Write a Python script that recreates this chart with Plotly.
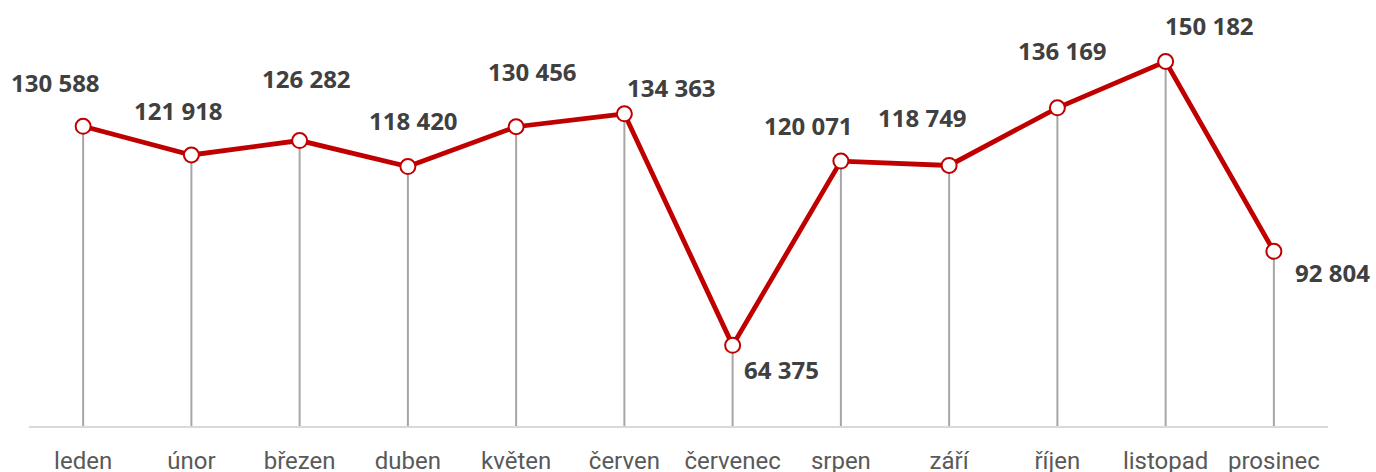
import plotly.graph_objects as go

months = ["leden", "únor", "březen", "duben", "květen", "červen",
          "červenec", "srpen", "září", "říjen", "listopad", "prosinec"]
values = [130588, 121918, 126282, 118420, 130456, 134363,
          64375, 120071, 118749, 136169, 150182, 92804]
labels = ["130 588", "121 918", "126 282", "118 420", "130 456", "134 363",
          "64 375", "120 071", "118 749", "136 169", "150 182", "92 804"]

# label pixel offsets (dx right, dy up)
label_dx = [-28, -13, 7, 6, 16, 47, 49, -32, -27, 5, 44, 59]
label_dy = [44, 44, 62, 46, 55, 26, -24, 36, 48, 57, 36, -21]

Y_MIN, Y_MAX = 40000, 160000
RED = "#c00000"

fig = go.Figure()

# drop lines
dx, dy = [], []
for m, v in zip(months, values):
    dx += [m, m, None]
    dy += [Y_MIN, v, None]
fig.add_trace(go.Scatter(x=dx, y=dy, mode="lines",
                         line=dict(color="#a6a6a6", width=2),
                         hoverinfo="skip", showlegend=False))

fig.add_trace(go.Scatter(x=months, y=values, mode="lines+markers",
                         line=dict(color=RED, width=4.8),
                         marker=dict(symbol="circle", size=15, color="white",
                                     line=dict(color=RED, width=2)),
                         showlegend=False))

for m, v, t, ox, oy in zip(months, values, labels, label_dx, label_dy):
    fig.add_annotation(x=m, y=v, text=t, showarrow=False,
                       xshift=ox, yshift=oy,
                       font=dict(family="Open Sans", size=24, color="#404040", weight="bold"))

fig.update_layout(
    width=1376, height=472,
    margin=dict(l=29, r=48, t=29, b=46, autoexpand=False),
    paper_bgcolor="white", plot_bgcolor="white",
    xaxis=dict(type="category", range=[-0.5, 11.5], showgrid=False,
               automargin=False,
               showline=True, linecolor="#d9d9d9", linewidth=2,
               ticks="outside", ticklen=12, tickcolor="rgba(0,0,0,0)",
               tickfont=dict(family="Roboto", size=24, color="#595959"),
               zeroline=False, fixedrange=True),
    yaxis=dict(range=[Y_MIN, Y_MAX], visible=False, showgrid=False,
               automargin=False, zeroline=False),
)

fig.write_html("out.html", config={"displayModeBar": False},
               post_script="document.body.style.margin='0';document.body.style.overflow='hidden';")
